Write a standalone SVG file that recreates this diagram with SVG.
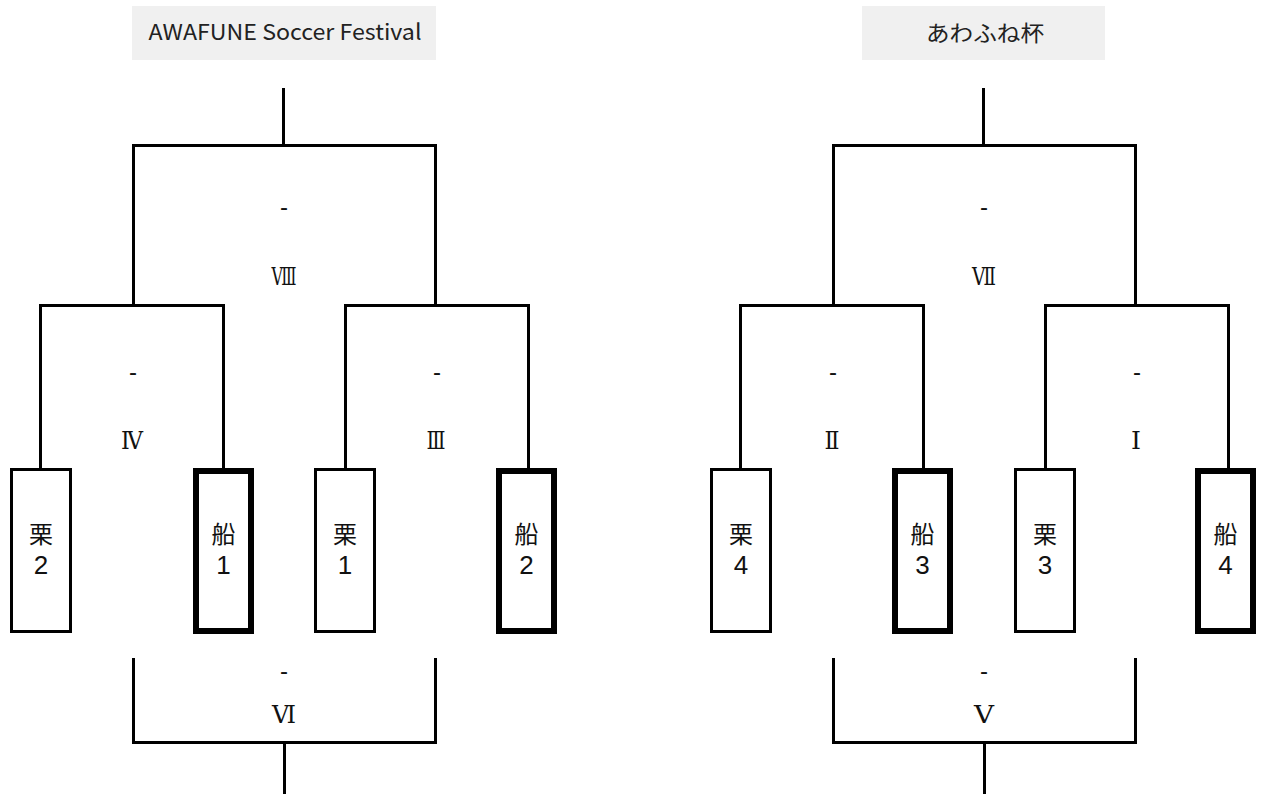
<svg xmlns="http://www.w3.org/2000/svg" width="1261" height="794" viewBox="0 0 1261 794">
<style>
.ln{fill:none;stroke:#000;stroke-width:3;stroke-linejoin:miter}
.bx{fill:#fff;stroke:#000;stroke-width:3}
.bxw{fill:#fff;stroke:#000;stroke-width:6}
.tb{fill:#f0f0f0}
.tt{font-family:"Noto Sans CJK JP","Liberation Sans",sans-serif;font-size:22px;fill:#222;text-anchor:middle}
.nm{font-family:"Noto Sans CJK JP","Liberation Sans",sans-serif;font-size:24px;fill:#111;text-anchor:middle}
.dg{font-family:"Liberation Sans",sans-serif;font-size:26px;fill:#111;text-anchor:middle}
.rn{font-family:"DejaVu Serif","Noto Sans CJK JP",serif;font-size:25px;fill:#111;text-anchor:middle}
.ds{font-family:"Liberation Sans",sans-serif;font-size:24px;fill:#111;text-anchor:middle}
</style>
<rect width="1261" height="794" fill="#fff"/>
<g id="connectors">
<path class="ln" d="M283.5 88V145.5M133.5 305.5V145.5H435.5V305.5M40.5 468V305.5H223.5V468M345.5 468V305.5H528.5V468M133.5 658V742.5H435.5V658M284.5 742.5V794"/>
<path class="ln" d="M983.5 88V145.5M833.5 305.5V145.5H1135.5V305.5M740.5 468V305.5H923.5V468M1045.5 468V305.5H1228.5V468M833.5 658V742.5H1135.5V658M984.5 742.5V794"/>
</g>
<g id="title-left"><rect class="tb" x="132" y="6" width="304" height="54"/><text class="tt" x="285" y="40" textLength="273" lengthAdjust="spacingAndGlyphs">AWAFUNE Soccer Festival</text></g>
<g id="title-right"><rect class="tb" x="862" y="6" width="243" height="54"/><text class="tt" x="985" y="41" textLength="118" lengthAdjust="spacingAndGlyphs">あわふね杯</text></g>
<g id="match-8"><text class="ds" x="284" y="215">-</text><text class="rn" x="284" y="285" textLength="25" lengthAdjust="spacingAndGlyphs">Ⅷ</text></g>
<g id="match-4"><text class="ds" x="133" y="380">-</text><text class="rn" x="132" y="449" textLength="22" lengthAdjust="spacingAndGlyphs">Ⅳ</text></g>
<g id="match-3"><text class="ds" x="437" y="380">-</text><text class="rn" x="436" y="449" textLength="19" lengthAdjust="spacingAndGlyphs">Ⅲ</text></g>
<g id="match-6"><text class="ds" x="284" y="679">-</text><text class="rn" x="284" y="723" textLength="24" lengthAdjust="spacingAndGlyphs">Ⅵ</text></g>
<g id="match-7"><text class="ds" x="984" y="215">-</text><text class="rn" x="984" y="285" textLength="24" lengthAdjust="spacingAndGlyphs">Ⅶ</text></g>
<g id="match-2"><text class="ds" x="833" y="380">-</text><text class="rn" x="832" y="449" textLength="15" lengthAdjust="spacingAndGlyphs">Ⅱ</text></g>
<g id="match-1"><text class="ds" x="1137" y="380">-</text><text class="rn" x="1136" y="449" textLength="10" lengthAdjust="spacingAndGlyphs">Ⅰ</text></g>
<g id="match-5"><text class="ds" x="984" y="679">-</text><text class="rn" x="984" y="723" textLength="20" lengthAdjust="spacingAndGlyphs">Ⅴ</text></g>
<g id="kuri2"><rect class="bx" x="11.5" y="469.5" width="59" height="162"/><text class="nm" x="41" y="543">栗</text><text class="dg" x="41" y="574">2</text></g>
<g id="fune1"><rect class="bxw" x="196" y="471" width="55" height="160"/><text class="nm" x="223.5" y="543">船</text><text class="dg" x="223.5" y="574">1</text></g>
<g id="kuri1"><rect class="bx" x="315.5" y="469.5" width="59" height="162"/><text class="nm" x="345" y="543">栗</text><text class="dg" x="345" y="574">1</text></g>
<g id="fune2"><rect class="bxw" x="499" y="471" width="55" height="160"/><text class="nm" x="526.5" y="543">船</text><text class="dg" x="526.5" y="574">2</text></g>
<g id="kuri4"><rect class="bx" x="711.5" y="469.5" width="59" height="162"/><text class="nm" x="741" y="543">栗</text><text class="dg" x="741" y="574">4</text></g>
<g id="fune3"><rect class="bxw" x="895" y="471" width="55" height="160"/><text class="nm" x="922.5" y="543">船</text><text class="dg" x="922.5" y="574">3</text></g>
<g id="kuri3"><rect class="bx" x="1015.5" y="469.5" width="59" height="162"/><text class="nm" x="1045" y="543">栗</text><text class="dg" x="1045" y="574">3</text></g>
<g id="fune4"><rect class="bxw" x="1198" y="471" width="55" height="160"/><text class="nm" x="1225.5" y="543">船</text><text class="dg" x="1225.5" y="574">4</text></g>
</svg>
